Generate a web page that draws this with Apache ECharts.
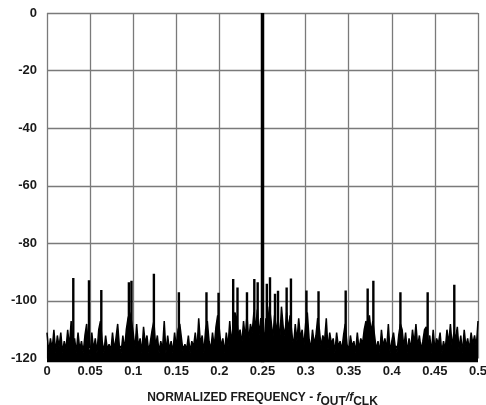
<!DOCTYPE html>
<html>
<head>
<meta charset="utf-8">
<script src="https://cdn.jsdelivr.net/npm/echarts@6/dist/echarts.min.js"></script>
<style>
  html, body { margin: 0; padding: 0; background: #fff; }
  #chart { width: 486px; height: 405px; }
</style>
</head>
<body>
<div id="chart"></div>
<script>
// noise floor, one value every 0.002 of f/fCLK (0 .. 0.5), dB
const binStep = 0.002
const floorDb = [
  -111, -118, -113, -117, -110, -118, -112, -116, -111, -118,
  -114, -117, -110, -116, -107, -115, -113, -118, -111, -117,
  -114, -118, -112, -108, -116, -119, -111, -117, -113, -118,
  -110, -107, -114, -118, -112, -117, -115, -118, -111, -117,
  -113, -108, -116, -118, -112, -117, -110, -106, -104, -107,
  -111, -117, -108, -116, -113, -118, -109, -115, -112, -118,
  -114, -110, -107, -116, -112, -118, -114, -117, -107, -118,
  -112, -117, -114, -118, -111, -116, -110, -108, -113, -118,
  -115, -117, -112, -118, -114, -116, -111, -117, -106, -115,
  -112, -118, -110, -107, -114, -117, -111, -116, -109, -105,
  -110, -116, -113, -118, -111, -116, -107, -115, -108, -104,
  -106, -112, -110, -115, -107, -113, -105, -114, -108, -111,
  -104, -110, -103, -112, -106, -108, -114, -106, -108, -102,
  -107, -113, -105, -111, -106, -114, -102, -109, -112, -104,
  -110, -105, -111, -116, -108, -114, -106, -113, -110, -116,
  -108, -104, -113, -117, -110, -115, -112, -106, -110, -116,
  -112, -114, -106, -117, -111, -115, -113, -118, -111, -116,
  -114, -117, -112, -108, -115, -118, -112, -116, -114, -118,
  -111, -117, -113, -115, -110, -107, -109, -105, -111, -107,
  -112, -117, -114, -118, -110, -116, -113, -117, -108, -118,
  -114, -111, -116, -118, -112, -108, -110, -116, -111, -118,
  -113, -117, -110, -115, -108, -116, -112, -117, -114, -110,
  -109, -116, -112, -118, -110, -117, -113, -115, -111, -118,
  -114, -117, -110, -115, -108, -116, -111, -113, -109, -117,
  -112, -118, -110, -116, -113, -117, -111, -115, -112, -116,
  -107
]

// spurs
const spurFreq = [0.0305, 0.0487, 0.063, 0.095, 0.098, 0.124, 0.153, 0.185, 0.199, 0.216,
  0.221, 0.232, 0.2405, 0.2444, 0.255, 0.2587, 0.2645, 0.268, 0.278, 0.283,
  0.301, 0.315, 0.3465, 0.372, 0.3786, 0.41, 0.4416, 0.4725]
const spurDb = [-92, -92.8, -96.2, -93.5, -93, -90.6, -97, -97, -97.2, -92.4,
  -95.3, -97, -92.4, -93.5, -94, -91.8, -97.5, -96.5, -95.3, -92.2,
  -96.4, -96.6, -96.4, -95.7, -93, -97, -97, -94.4]

// fundamental
const toneFreq = 0.25
const toneDb = 0

const bottomDb = -121.3
const yTicks = ['0', '-20', '-40', '-60', '-80', '-100', '-120']
const xTicks = ['0', '0.05', '0.1', '0.15', '0.2', '0.25', '0.3', '0.35', '0.4', '0.45', '0.5']

let floorData = floorDb.map((v, i) => [i * binStep, v])
let spurData = []
spurFreq.forEach((f, i) => {
  spurData.push([f, -116], [f, spurDb[i]], [f, -116])
})

const font = 'Liberation Sans, Arial, sans-serif'

let chart = echarts.init(document.getElementById('chart'))
chart.setOption({
  animation: false,
  grid: { left: 47, right: 8, top: 13, bottom: 46.5, outerBoundsMode: 'none', containLabel: false },
  xAxis: {
    type: 'value',
    min: 0,
    max: 0.5,
    interval: 0.05,
    axisLine: { show: false },
    axisTick: { show: false },
    splitLine: { show: true, lineStyle: { color: '#7a7a7a', width: 1.3 } },
    axisLabel: {
      margin: 6,
      color: '#1a1a1a',
      fontFamily: font,
      fontWeight: 'bold',
      fontSize: 13,
      formatter: v => xTicks[Math.round(v / 0.05)]
    },
    name: '{b|NORMALIZED FREQUENCY - }{i|f}{s|OUT}{i|/f}{s|CLK}',
    nameLocation: 'middle',
    nameGap: 29,
    nameTextStyle: {
      rich: {
        b: { fontFamily: font, fontWeight: 'bold', fontSize: 12, color: '#1a1a1a' },
        i: { fontFamily: font, fontStyle: 'italic', fontWeight: 'bold', fontSize: 12, color: '#1a1a1a' },
        s: { fontFamily: font, fontWeight: 'bold', fontSize: 12, color: '#1a1a1a', padding: [8, 0, 0, 0] }
      }
    }
  },
  yAxis: {
    type: 'value',
    min: -120,
    max: 0,
    interval: 20,
    axisLine: { show: false },
    axisTick: { show: false },
    splitLine: { show: true, lineStyle: { color: '#7a7a7a', width: 1.3 } },
    axisLabel: {
      margin: 10,
      color: '#1a1a1a',
      fontFamily: font,
      fontWeight: 'bold',
      fontSize: 13,
      formatter: v => yTicks[Math.round(-v / 20)]
    }
  },
  series: [
    {
      type: 'line',
      data: floorData,
      symbol: 'none',
      clip: false,
      lineStyle: { color: '#000', width: 1.5 },
      areaStyle: { color: '#000', opacity: 1, origin: bottomDb }
    },
    {
      type: 'line',
      data: spurData,
      symbol: 'none',
      clip: false,
      lineStyle: { color: '#000', width: 2.4 }
    },
    {
      type: 'line',
      data: [[toneFreq, bottomDb], [toneFreq, toneDb]],
      symbol: 'none',
      clip: false,
      lineStyle: { color: '#000', width: 3.5 }
    }
  ]
})
</script>
</body>
</html>
